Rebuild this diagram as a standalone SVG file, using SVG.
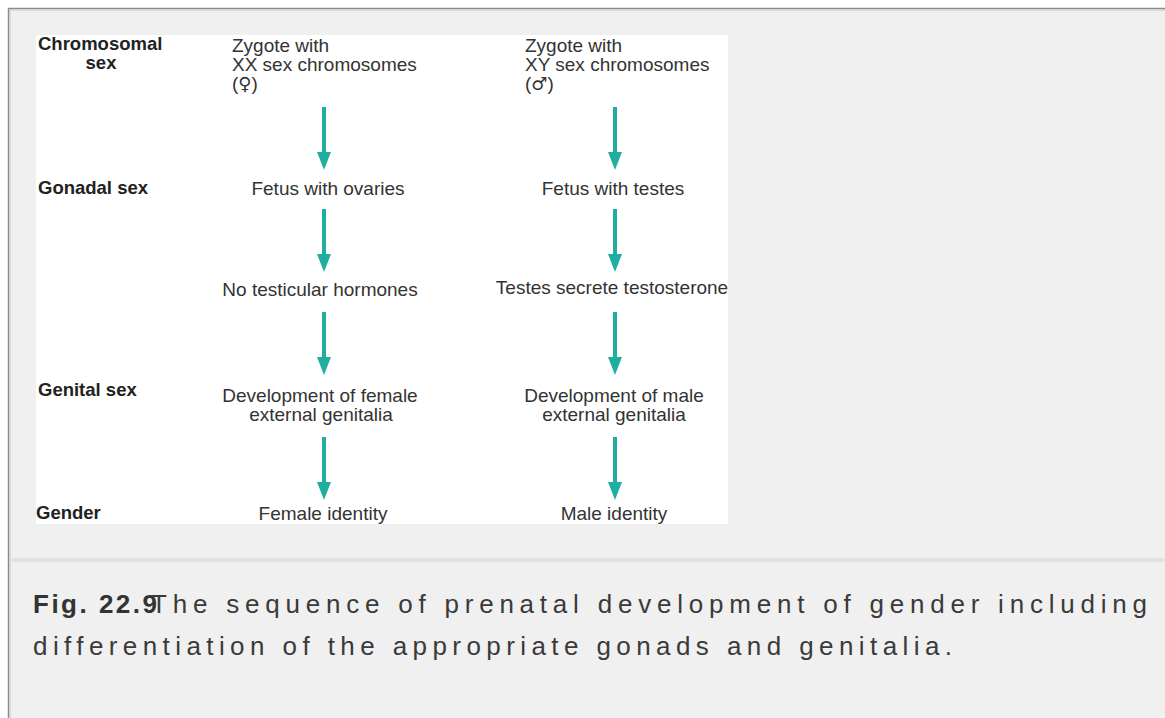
<svg xmlns="http://www.w3.org/2000/svg" width="1165" height="718" viewBox="0 0 1165 718">
  <defs>
    <style>
      .lbl { font-family: "Liberation Sans", Arial, sans-serif; font-size: 18.5px; font-weight: bold; fill: #222; }
      .txt { font-family: "Liberation Sans", Arial, sans-serif; font-size: 19px; fill: #333; }
      .sym { font-family: "DejaVu Sans", sans-serif; font-size: 18px; }
      .mid { text-anchor: middle; }
      .cap { font-family: "Liberation Sans", Arial, sans-serif; font-size: 26px; fill: #3a3a3a; }
      .capb { font-weight: bold; fill: #333; }
      .arrow { stroke: #1fae9f; stroke-width: 4; fill: none; marker-end: url(#head); }
    </style>
    <marker id="head" markerUnits="userSpaceOnUse" markerWidth="18" markerHeight="14" viewBox="0 0 18 14" refX="0" refY="7" orient="auto">
      <path d="M0,0 L18,7 L0,14 Z" fill="#1fae9f"/>
    </marker>
  </defs>

  <rect x="0" y="0" width="1165" height="718" fill="#ffffff"/>
  <rect x="9" y="8" width="1156" height="710" fill="#f0f0f0"/>
  <line x1="8" y1="8.5" x2="1165" y2="8.5" stroke="#8a8a8a" stroke-width="1.5"/>
  <line x1="9" y1="10" x2="1165" y2="10" stroke="#d4d4d4" stroke-width="1.5"/>
  <line x1="8.5" y1="8" x2="8.5" y2="718" stroke="#8a8a8a" stroke-width="1.5"/>
  <line x1="10" y1="10" x2="10" y2="718" stroke="#d4d4d4" stroke-width="1.5"/>

  <rect x="36" y="35" width="692" height="489" fill="#ffffff"/>

  <g id="row-labels">
    <text class="lbl" x="38" y="50">Chromosomal</text>
    <text class="lbl mid" x="101" y="69">sex</text>
    <text class="lbl" x="38" y="194">Gonadal sex</text>
    <text class="lbl" x="38" y="396">Genital sex</text>
    <text class="lbl" x="36" y="519">Gender</text>
  </g>

  <g id="xx-zygote">
    <text class="txt" x="232" y="52">Zygote with</text>
    <text class="txt" x="232" y="71">XX sex chromosomes</text>
    <text class="txt" x="232" y="90">(<tspan class="sym">♀</tspan>)</text>
  </g>
  <g id="fetus-ovaries"><text class="txt mid" x="328" y="195">Fetus with ovaries</text></g>
  <g id="no-hormones"><text class="txt mid" x="320" y="296">No testicular hormones</text></g>
  <g id="female-genitalia">
    <text class="txt mid" x="320" y="402">Development of female</text>
    <text class="txt mid" x="321" y="421">external genitalia</text>
  </g>
  <g id="female-identity"><text class="txt mid" x="323" y="520">Female identity</text></g>

  <g id="xy-zygote">
    <text class="txt" x="525" y="52">Zygote with</text>
    <text class="txt" x="525" y="71">XY sex chromosomes</text>
    <text class="txt" x="525" y="90">(<tspan class="sym">♂</tspan>)</text>
  </g>
  <g id="fetus-testes"><text class="txt mid" x="613" y="195">Fetus with testes</text></g>
  <g id="testosterone"><text class="txt mid" x="612" y="294">Testes secrete testosterone</text></g>
  <g id="male-genitalia">
    <text class="txt mid" x="614" y="402">Development of male</text>
    <text class="txt mid" x="614" y="421">external genitalia</text>
  </g>
  <g id="male-identity"><text class="txt mid" x="614" y="520">Male identity</text></g>

  <g id="connectors">
    <line class="arrow" x1="324" y1="107" x2="324" y2="152"/>
    <line class="arrow" x1="324" y1="209" x2="324" y2="254"/>
    <line class="arrow" x1="324" y1="312" x2="324" y2="357"/>
    <line class="arrow" x1="324" y1="437" x2="324" y2="482"/>
    <line class="arrow" x1="615" y1="107" x2="615" y2="152"/>
    <line class="arrow" x1="615" y1="209" x2="615" y2="254"/>
    <line class="arrow" x1="615" y1="312" x2="615" y2="357"/>
    <line class="arrow" x1="615" y1="437" x2="615" y2="482"/>
  </g>

  <rect x="12" y="558" width="1153" height="4" fill="#e2e2e2"/>

  <g id="caption">
    <text class="cap capb" x="33" y="613" textLength="124" lengthAdjust="spacing">Fig. 22.9</text>
    <text class="cap" x="151" y="613" textLength="996" lengthAdjust="spacing">The sequence of prenatal development of gender including</text>
    <text class="cap" x="33" y="655" textLength="919" lengthAdjust="spacing">differentiation of the appropriate gonads and genitalia.</text>
  </g>
</svg>
